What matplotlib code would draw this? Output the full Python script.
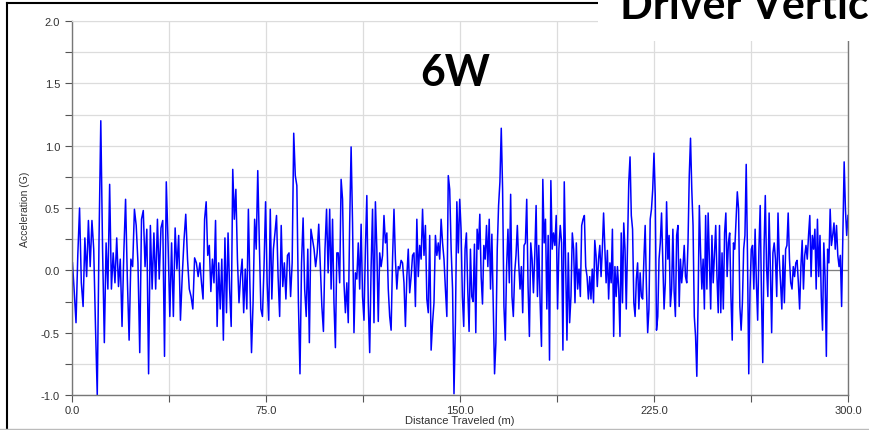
# driver vertical acceleration trace, 6W run
import matplotlib
matplotlib.use("Agg")
import matplotlib.pyplot as plt
from matplotlib.lines import Line2D
from matplotlib.patches import Rectangle
import numpy as np

# distance breakpoints (m) for each block of readings
seg_edges = [0.0, 49.3, 99.5, 149.8, 200.1, 250.3, 300.0]

# acceleration readings (G)
seg1 = [0.06, -0.17, -0.42, 0.12, 0.50, -0.10, -0.29, 0.26, -0.05, 0.40, 0.03, 0.40, 0.17,
        -0.45, -1.00, 0.25, 1.20, 0.17, -0.58, 0.22, -0.15, 0.69, -0.15, 0.14, -0.10, 0.26,
        -0.13, 0.09, -0.45, 0.14, 0.57, -0.07, -0.56, 0.09, 0.03, 0.49, 0.36, 0.06, -0.66,
        0.41, 0.48, 0.03, 0.33, -0.83, 0.36, -0.15, 0.30, -0.15, 0.41, -0.07, 0.34, 0.40,
        -0.69, 0.71, 0.22, -0.37, 0.22, -0.37, 0.34, 0.01, 0.28, -0.40, -0.05, 0.24, 0.45,
        0.09, -0.15, -0.21, -0.31, 0.10, 0.06, -0.05]
seg2 = [0.06, -0.10, -0.23, 0.41, 0.55, 0.12, 0.20, -0.17, 0.09, -0.10, 0.40, -0.45, 0.06,
        -0.31, 0.09, -0.56, 0.26, -0.34, 0.30, -0.15, -0.45, 0.81, 0.41, 0.65, 0.09, -0.26,
        -0.05, 0.09, -0.34, 0.01, -0.31, 0.49, -0.13, -0.66, -0.26, 0.41, 0.17, 0.80, 0.22,
        -0.31, -0.37, 0.03, 0.55, -0.10, -0.40, 0.49, -0.23, 0.17, 0.30, 0.44, -0.05, -0.37,
        0.36, -0.13, 0.06, -0.23, 0.12, 0.14, -0.21, 0.06, 1.10, 0.76, 0.68, -0.26, -0.83,
        0.06, 0.42, -0.15, -0.37, 0.17, -0.58, 0.33, 0.25, 0.17, 0.03, 0.14, 0.37, 0.03,
        -0.29, -0.49, 0.17, 0.49, -0.02]
seg3 = [0.49, -0.15, 0.41, -0.26, -0.62, 0.14, 0.14, -0.10, 0.73, 0.57, -0.10, -0.34, -0.10,
        -0.42, 0.38, 0.99, 0.38, -0.50, -0.02, -0.07, 0.22, -0.15, 0.37, -0.21, -0.40, 0.17,
        0.60, -0.26, -0.66, 0.03, 0.49, -0.42, 0.55, 0.17, -0.41, 0.14, 0.03, 0.12, 0.44,
        0.22, 0.30, -0.15, -0.37, -0.48, 0.09, 0.49, 0.09, -0.15, 0.03, 0.01, 0.08, 0.06,
        -0.10, -0.45, -0.05, 0.17, -0.18, -0.05, 0.12, 0.14, -0.29, 0.41, -0.05, 0.20, 0.09,
        0.49, 0.12, 0.36, -0.23, -0.34, 0.28, -0.64, -0.42, -0.26, 0.28, 0.12, 0.22, 0.09,
        0.41, 0.22, 0.09, -0.15, -0.37, 0.76, 0.65, 0.17, -0.15, -0.99, -0.42, 0.55, 0.14]
seg4 = [0.57, 0.33, -0.21, -0.45, 0.17, 0.30, -0.15, -0.49, 0.17, -0.21, -0.25, 0.21, -0.50,
        0.33, 0.17, 0.45, -0.05, -0.27, 0.20, 0.09, 0.36, 0.03, 0.41, -0.15, 0.29, -0.26,
        -0.83, -0.58, 0.17, 0.52, 0.71, 1.14, 0.65, -0.29, -0.56, 0.03, 0.33, -0.10, 0.61,
        -0.21, -0.37, -0.02, 0.12, 0.36, 0.06, -0.15, 0.03, -0.34, 0.20, 0.22, 0.57, -0.13,
        -0.53, 0.22, 0.09, -0.18, 0.12, 0.52, -0.21, 0.20, -0.26, -0.61, 0.73, 0.22, 0.41,
        -0.31, 0.28, -0.72, 0.72, 0.17, 0.30, 0.20, 0.44, -0.31, 0.17, 0.36, 0.22, -0.64,
        0.71, 0.09, -0.56, 0.14, -0.42, -0.21, 0.30, 0.17, -0.26, 0.22, -0.15, 0.01, -0.21,
        0.36, 0.41, 0.44, 0.03, -0.05, -0.23]
seg5 = [-0.05, -0.23, 0.01, -0.26, 0.24, 0.12, -0.13, 0.09, 0.20, -0.05, 0.17, 0.46, 0.17,
        -0.10, 0.16, -0.23, 0.06, -0.10, 0.33, -0.53, 0.03, -0.21, 0.03, -0.15, -0.53, 0.30,
        -0.26, 0.38, 0.17, -0.31, 0.22, 0.71, 0.91, 0.44, 0.33, -0.26, -0.37, -0.07, 0.06,
        -0.31, -0.02, -0.21, -0.23, 0.09, 0.36, -0.13, -0.50, -0.31, 0.41, 0.49, 0.65, 0.94,
        0.60, -0.48, -0.37, 0.09, 0.22, 0.46, 0.09, -0.31, -0.10, 0.55, 0.09, 0.28, -0.29,
        -0.15, 0.33, -0.17, -0.37, 0.28, 0.36, -0.29, 0.09, -0.10, 0.03, 0.20, -0.05, -0.10,
        0.22, 0.76, 1.06, 0.65, 0.36, -0.37, -0.53, -0.85, -0.26, 0.52, 0.14, -0.15, 0.09,
        -0.31, 0.44, -0.15, 0.46, 0.09, -0.31, 0.28, -0.10, 0.14, 0.36, -0.05, -0.34]
seg6 = [0.36, -0.34, 0.14, -0.31, 0.30, 0.46, -0.05, 0.22, 0.30, -0.21, -0.56, 0.22, 0.17,
        0.41, 0.63, 0.49, -0.29, -0.48, -0.26, 0.17, 0.28, 0.85, 0.12, -0.83, -0.15, 0.17,
        0.20, -0.15, 0.33, -0.10, -0.40, 0.17, 0.52, -0.21, -0.74, 0.17, 0.60, 0.03, -0.21,
        0.46, 0.01, -0.50, 0.14, 0.22, 0.09, -0.21, 0.46, 0.09, -0.10, -0.31, 0.12, -0.26,
        0.17, 0.20, 0.46, 0.09, -0.10, -0.15, 0.03, -0.05, 0.06, 0.08, -0.10, -0.31, 0.03,
        0.24, -0.15, 0.12, 0.20, 0.09, 0.28, 0.44, -0.05, 0.28, 0.17, 0.33, -0.15, 0.41,
        -0.05, 0.28, -0.21, -0.48, 0.22, -0.05, -0.69, 0.17, 0.06, 0.49, 0.20, 0.28, 0.38,
        0.17, 0.36, 0.12, 0.03, 0.12, -0.29, 0.30, 0.87, 0.49, 0.28, 0.44]

segments = [seg1, seg2, seg3, seg4, seg5, seg6]

dist = []
accel = []
for i, seg in enumerate(segments):
    last = i == len(segments) - 1
    dist.extend(np.linspace(seg_edges[i], seg_edges[i + 1], len(seg), endpoint=last))
    accel.extend(seg)

x_ticks = np.arange(0, 300.1, 37.5)
x_labels = ["0.0", "", "75.0", "", "150.0", "", "225.0", "", "300.0"]
y_ticks = np.arange(-1.0, 2.01, 0.25)
y_labels = ["-1.0", "", "-0.5", "", "0.0", "", "0.5", "", "1.0", "", "1.5", "", "2.0"]

plt.rcParams['font.family'] = ['Liberation Sans', 'DejaVu Sans']

fig = plt.figure(figsize=(8.69, 4.31), dpi=100)
ax = fig.add_axes([0.0834, 0.0812, 0.8924, 0.8677])

ax.plot(dist, accel, color='#0000ff', lw=1.1)
ax.axhline(0, color='#7f7f7f', lw=0.9, zorder=1)

ax.set_xlim(0, 300)
ax.set_ylim(-1, 2)
ax.set_xticks(x_ticks)
ax.set_xticklabels(x_labels)
ax.set_yticks(y_ticks)
ax.set_yticklabels(y_labels)
ax.grid(True, color='#dcdcdc', lw=0.9)
ax.set_axisbelow(True)
ax.tick_params(labelsize=8, length=5, width=0.8, colors='#555555', labelcolor='#333333')
ax.tick_params(axis='y', pad=4)
ax.tick_params(axis='x', pad=2)

for s in ['left', 'bottom', 'right']:
    ax.spines[s].set_color('#777777')
    ax.spines[s].set_linewidth(1.0)
ax.spines['top'].set_color('#dcdcdc')

ax.set_xlabel('Distance Traveled (m)', fontsize=8, color='#333333', labelpad=0)
ax.set_ylabel('Acceleration (G)', fontsize=7.5, color='#333333', labelpad=8)

# slide frame around the screenshot
fig.add_artist(Line2D([0.008, 0.687], [0.991, 0.991], color='black', lw=1.5))
fig.add_artist(Line2D([0.008, 0.008], [0.0, 0.991], color='black', lw=1.5))
fig.add_artist(Line2D([0.0, 1.0], [0.002, 0.002], color='#bbbbbb', lw=1.0))

# white title box covering the top right corner (title runs off the slide as in the source)
fig.add_artist(Rectangle((0.688, 0.903), 0.32, 0.1, facecolor='white',
                         edgecolor='none', transform=fig.transFigure, zorder=5))
fig.text(0.714, 0.955, 'Driver Vertical', fontsize=31, fontweight='bold',
         family=['Lato', 'DejaVu Sans'], ha='left', va='baseline', zorder=6)
fig.text(0.524, 0.80, '6W', fontsize=31, fontweight='bold',
         family=['Lato', 'DejaVu Sans'], ha='center', va='baseline', zorder=6)

fig.savefig('out.png', dpi=100)
